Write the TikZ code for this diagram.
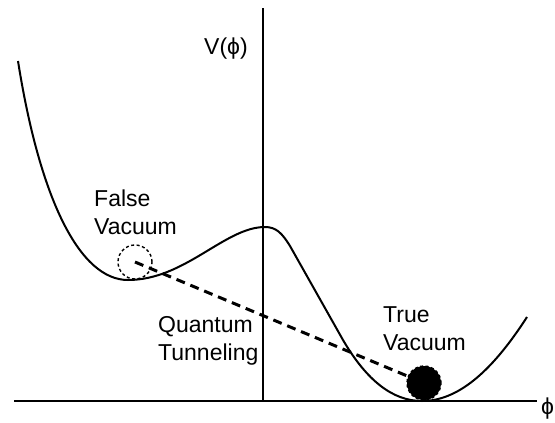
\documentclass[tikz,border=0pt]{standalone}
\usepackage{fontspec}
\setmainfont{Liberation Sans}
\usetikzlibrary{positioning}

\begin{document}
\begin{tikzpicture}[
    x=1pt, y=-1pt,
    every node/.style={font=\fontsize{23}{28}\selectfont, inner sep=0pt},
    lbl/.style ={align=left, anchor=base west},
    axis/.style={line width=1.8pt},
    pot/.style ={line width=2pt, line join=round},
    vac/.style ={draw, circle, minimum size=34pt, line width=1.4pt,
                 dash pattern=on 3pt off 2.5pt},
    ball/.style={vac, fill=black},
    tunnel/.style={line width=3pt, dash pattern=on 9pt off 6pt},
]
\useasboundingbox (0,0) rectangle (555,423);
% --- axes ---
\coordinate (xl) at (14,401);
\coordinate (xr) at (537,401);
\coordinate (o)  at (263,401);
\coordinate (yt) at (263,8);
\draw[axis] (xl) -- (xr);
\draw[axis] (o) -- (yt);
\node[lbl] (vlab) at (204,54) {V(ϕ)};
\node[lbl] (plab) at (541,414) {ϕ};

% --- the potential ---
\draw[pot] (18,61) .. controls (40,200) and (80,280) .. (128,280)
  .. controls (185,280) and (225,227) .. (265,227)
  .. controls (276,227) and (282,233) .. (290,246)
  -- (343,340)
  .. controls (367,381) and (393,401) .. (422,401)
  .. controls (457,401) and (491,373) .. (527,317);

% --- the two vacua and the tunnelling path ---
\node[vac]  (fvac) at (135,262) {};
\node[ball] (tvac) at (424,383) {};
\draw[tunnel] (fvac.center) -- (tvac);

% (base = baseline of the last line)
\node[lbl] (flab) at (94,234)  {False\\Vacuum};
\node[lbl] (qlab) at (158,360) {Quantum\\Tunneling};
\node[lbl] (tlab) at (383,350) {True\\Vacuum};
\end{tikzpicture}
\end{document}
